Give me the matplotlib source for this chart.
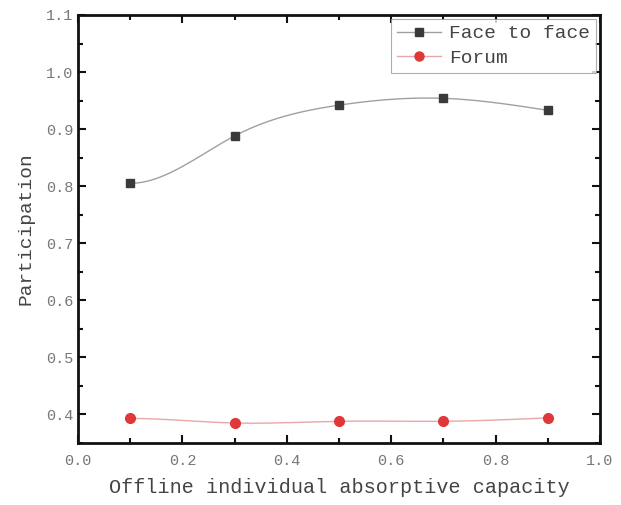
import numpy as np
import matplotlib
matplotlib.use("Agg")
import matplotlib.pyplot as plt
from matplotlib.ticker import MultipleLocator, FormatStrFormatter

capacity = [0.1, 0.3, 0.5, 0.7, 0.9]
face_to_face = [0.805, 0.888, 0.942, 0.954, 0.933]
forum = [0.393, 0.385, 0.388, 0.388, 0.394]


def smooth(x, y, n=200):
    # cubic spline through the points: flat start, free (natural) end
    x = np.asarray(x, float)
    y = np.asarray(y, float)
    h = np.diff(x)
    k = len(x)
    A = np.zeros((k, k))
    b = np.zeros(k)
    A[0, 0], A[0, 1] = 2 * h[0], h[0]
    b[0] = 6 * (y[1] - y[0]) / h[0]
    A[-1, -1] = 1
    for i in range(1, k - 1):
        A[i, i - 1] = h[i - 1]
        A[i, i] = 2 * (h[i - 1] + h[i])
        A[i, i + 1] = h[i]
        b[i] = 6 * ((y[i + 1] - y[i]) / h[i] - (y[i] - y[i - 1]) / h[i - 1])
    m = np.linalg.solve(A, b)
    xs = np.linspace(x[0], x[-1], n)
    idx = np.clip(np.searchsorted(x, xs) - 1, 0, k - 2)
    t = xs - x[idx]
    hi = h[idx]
    a = y[idx]
    bb = (y[idx + 1] - y[idx]) / hi - hi * (2 * m[idx] + m[idx + 1]) / 6
    c = m[idx] / 2
    d = (m[idx + 1] - m[idx]) / (6 * hi)
    return xs, a + bb * t + c * t ** 2 + d * t ** 3


plt.rcParams['font.family'] = ['Liberation Mono', 'DejaVu Sans Mono']
txt = '#444444'

fig = plt.figure(figsize=(6.21, 5.05), dpi=100)
ax = fig.add_axes([0.1256, 0.1228, 0.8404, 0.8475])

xs, ys = smooth(capacity, face_to_face)
ax.plot(xs, ys, color='#a0a0a0', lw=1.0)
xs, ys = smooth(capacity, forum)
ax.plot(xs, ys, color='#e8a8a8', lw=1.0)
ax.plot(capacity, face_to_face, 's', color='#3a3a3a', ms=6, ls='none')
ax.plot(capacity, forum, 'o', color='#e03838', ms=7, ls='none')

# legend proxies: line with marker
ax.plot([], [], '-s', color='#a0a0a0', mfc='#3a3a3a', mec='#3a3a3a', ms=6, lw=1.0, label='Face to face')
ax.plot([], [], '-o', color='#e8a8a8', mfc='#e03838', mec='#e03838', ms=6.5, lw=1.0, label='Forum')
leg = ax.legend(loc='upper right', fontsize=14, frameon=True, fancybox=False,
                edgecolor='#999999', handlelength=2.3, borderpad=0.3,
                labelspacing=0.35, handletextpad=0.4, borderaxespad=0.2)
leg.get_frame().set_linewidth(0.8)
for t in leg.get_texts():
    t.set_color(txt)

ax.set_xlim(0, 1.0)
ax.set_ylim(0.35, 1.1)
ax.xaxis.set_major_locator(MultipleLocator(0.2))
ax.xaxis.set_minor_locator(MultipleLocator(0.1))
ax.yaxis.set_major_locator(MultipleLocator(0.1))
ax.yaxis.set_minor_locator(MultipleLocator(0.05))
ax.xaxis.set_major_formatter(FormatStrFormatter('%.1f'))
ax.yaxis.set_major_formatter(FormatStrFormatter('%.1f'))
ax.tick_params(which='both', direction='in', top=True, right=True, width=1.5, colors='#111111', labelcolor='#777777', labelsize=11)
ax.tick_params(which='major', length=6)
ax.tick_params(which='minor', length=3.5)
ax.tick_params(axis='x', pad=8)
for s in ax.spines.values():
    s.set_linewidth(2.0)
    s.set_color('#111111')

ax.set_xlabel('Offline individual absorptive capacity', fontsize=14.5, color=txt, labelpad=7)
ax.set_ylabel('Participation', fontsize=14, color=txt, labelpad=8)

fig.savefig('out.png', dpi=100)
